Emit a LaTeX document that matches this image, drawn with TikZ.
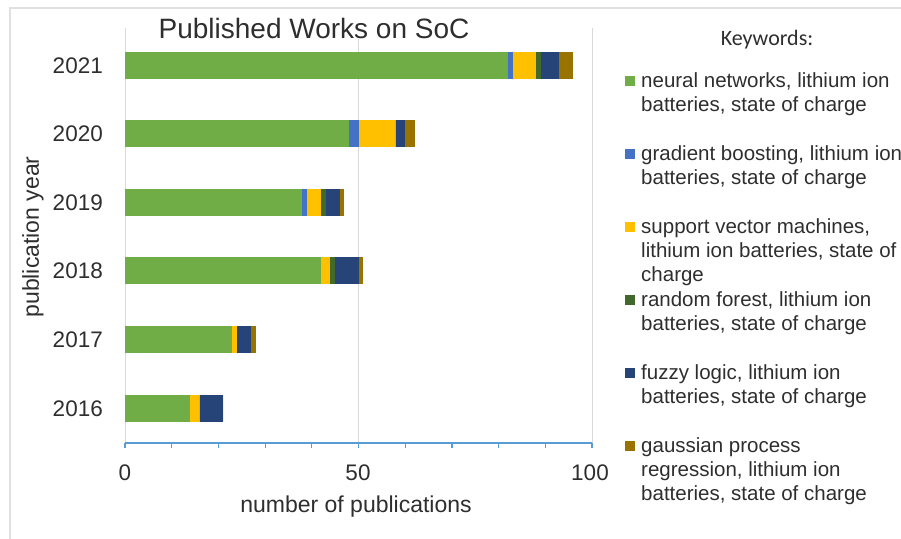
\documentclass[tikz,border=0pt]{standalone}
\usepackage{fontspec}
\setmainfont{Liberation Sans}
\newfontfamily\keyfont{Carlito}
\usetikzlibrary{positioning}

\definecolor{nnGreen}{HTML}{70AD47}
\definecolor{gbBlue}{HTML}{4472C4}
\definecolor{svmGold}{HTML}{FFC000}
\definecolor{rfGreen}{HTML}{43682B}
\definecolor{flNavy}{HTML}{264478}
\definecolor{gprBrown}{HTML}{997300}
\definecolor{axisBlue}{HTML}{5B9BD5}
\definecolor{gridGray}{HTML}{D9D9D9}

\begin{document}
\begin{tikzpicture}[x=1pt,y=-1pt,
    every node/.style={inner sep=0pt,text=black!82},
    gridline/.style={draw=gridGray,line width=1pt},
    axisline/.style={draw=axisBlue,line width=1.5pt},
    ylab/.style={font=\fontsize{22.5}{26}\selectfont,anchor=base east},
    xlab/.style={font=\fontsize{22.5}{26}\selectfont,anchor=base},
    key/.style={font=\fontsize{20.5}{24}\selectfont,anchor=base west,align=left}]
    \useasboundingbox (0,0) rectangle (901,538);

    % light frame round the chart
    \draw[black!12,line width=1.5pt] (10,560) -- (10,8) -- (920,8);

    \coordinate (o) at (125,443);
    \coordinate (xend) at (592,443);

    % vertical gridlines at 0, 50 and 100
    \foreach \t in {0,50,100}
        \draw[gridline] (125+4.67*\t,28) -- (125+4.67*\t,443);

    \node[fill=white,inner sep=1pt,font=\fontsize{28}{32}\selectfont,anchor=base] (title) at (314,38) {Published Works on SoC};

    % stacked bars, one row per year
    \foreach \yr/\nn/\gb/\svm/\rf/\fl/\gpr [count=\i from 0] in {
        2021/82/1/5/1/4/3, 2020/48/2/8/0/2/2, 2019/38/1/3/1/3/1,
        2018/42/0/2/1/5/1, 2017/23/0/1/0/3/1, 2016/14/0/2/0/5/0}{
        \pgfmathsetmacro\yc{65+68.6*\i}
        \node[ylab] (yr\yr) at (103,\yc+8) {\yr};
        \xdef\run{0}
        \foreach \v/\c in {\nn/nnGreen,\gb/gbBlue,\svm/svmGold,\rf/rfGreen,\fl/flNavy,\gpr/gprBrown}{
            \pgfmathsetmacro\nxt{\run+\v}
            \fill[\c] (125+4.67*\run,\yc-13.5) rectangle (125+4.67*\nxt,\yc+13.5);
            \xdef\run{\nxt}
        }
    }

    % x axis with ticks every 10
    \draw[axisline] (o) -- (xend);
    \foreach \t in {0,10,...,100}
        \draw[axisline,line width=1.2pt] (125+4.67*\t,443) -- ++(0,5);
    \node[xlab] (x0) at (125,480) {0};
    \node[xlab] (x50) at (358,480) {50};
    \node[xlab] (x100) at (590,480) {100};

    \node[font=\fontsize{23}{26}\selectfont] (xtitle) at (356,507) {number of publications};
    \node[font=\fontsize{23}{26}\selectfont,rotate=90] (ytitle) at (33,237) {publication year};

    % legend (a node's base is its last line, hence the shift by line count)
    \node[font=\keyfont\fontsize{22}{26}\selectfont,anchor=base] (keyhead) at (767,45) {Keywords:};
    \foreach \c/\n/\txt [count=\k from 0] in {
        nnGreen/2/{neural networks, lithium ion\\batteries, state of charge},
        gbBlue/2/{gradient boosting, lithium ion\\batteries, state of charge},
        svmGold/3/{support vector machines,\\lithium ion batteries, state of\\charge},
        rfGreen/2/{random forest,  lithium ion\\batteries, state of charge},
        flNavy/2/{fuzzy logic,  lithium ion\\batteries, state of charge},
        gprBrown/3/{gaussian process\\regression,  lithium ion\\batteries, state of charge}}{
        \pgfmathsetmacro\bl{87+73*\k}
        \fill[\c] (625,\bl-11) rectangle ++(10,10);
        \node[key] (key\k) at (641,\bl+24*\n-24) {\txt};
    }
\end{tikzpicture}
\end{document}
